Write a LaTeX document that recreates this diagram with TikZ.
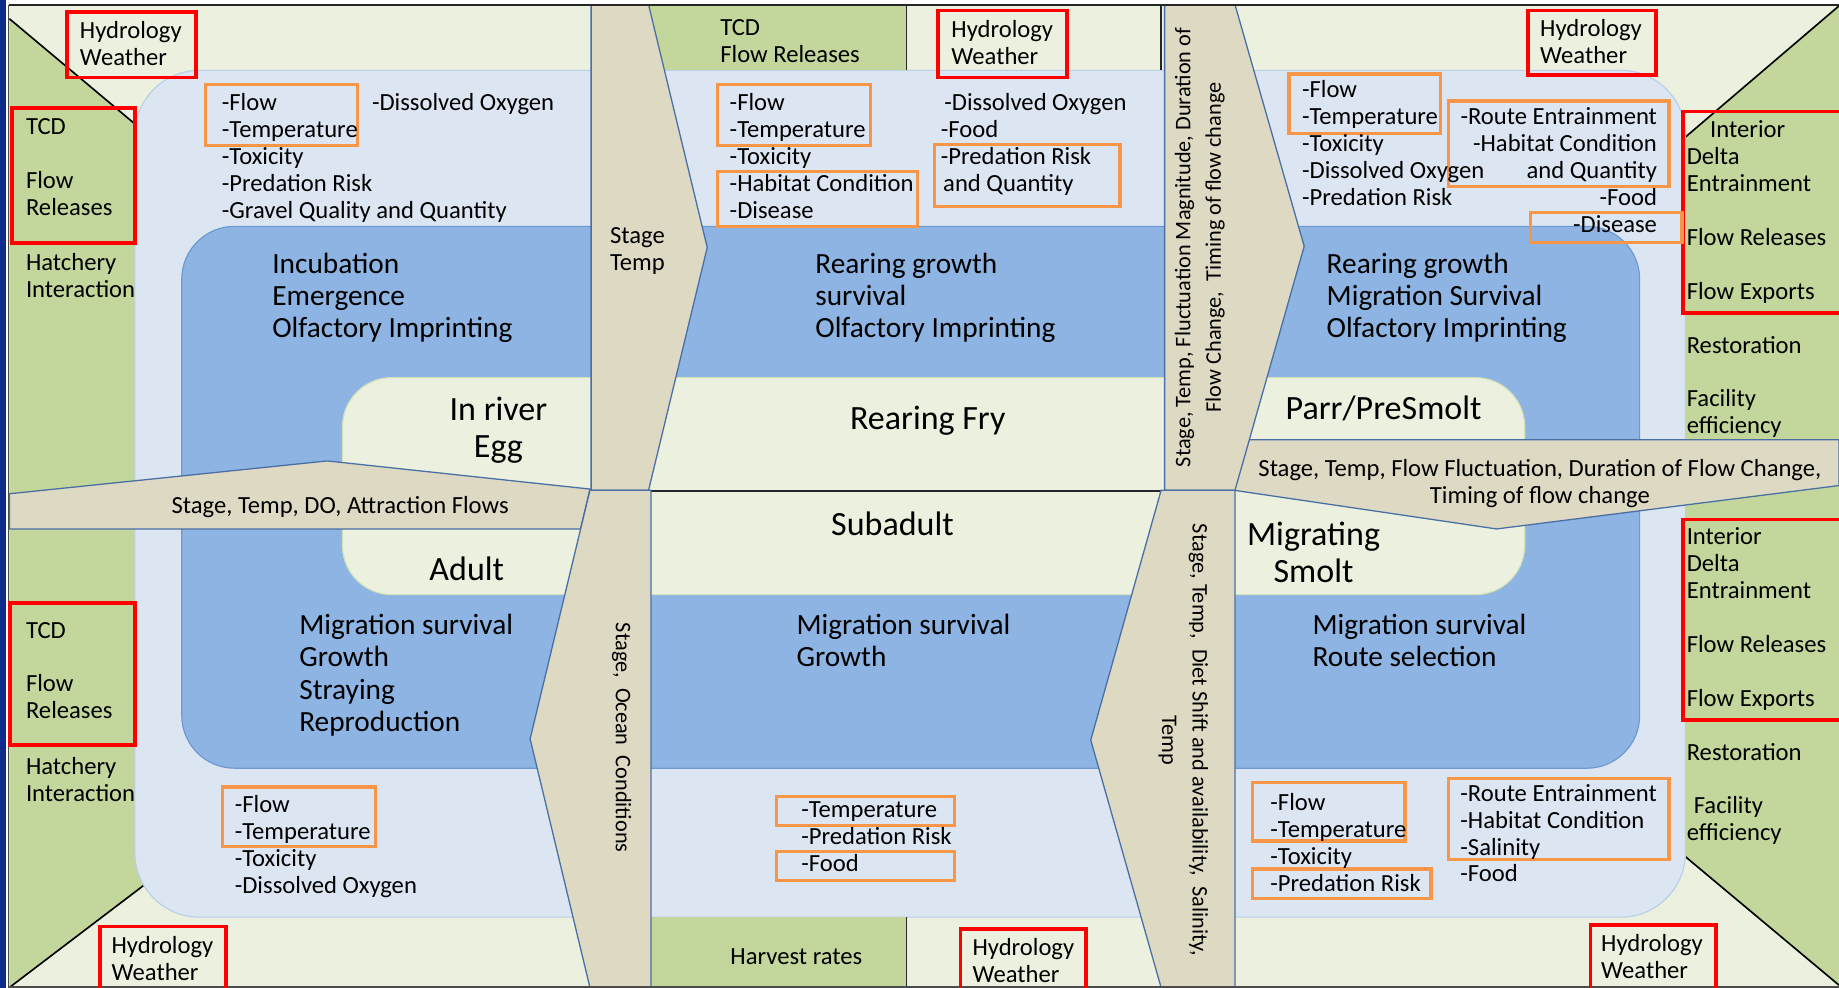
\documentclass[tikz,border=0pt]{standalone}
\usepackage{fontspec}
\setmainfont{Carlito}
\definecolor{cream}{HTML}{EBF1DE}
\definecolor{olive}{HTML}{C3D69B}
\definecolor{paleblue}{HTML}{DCE6F2}
\definecolor{paleedge}{HTML}{B9CFE8}
\definecolor{midblue}{HTML}{8DB4E2}
\definecolor{midedge}{HTML}{6E98CF}
\definecolor{creamedge}{HTML}{D4E2B8}
\definecolor{tanfill}{HTML}{DDD9C3}
\definecolor{bandline}{HTML}{4A6FA5}
\definecolor{boxorange}{HTML}{F79646}
\definecolor{navy}{HTML}{0E2C8C}
\begin{document}
% multi-line labels are placed by the baseline of their last line
\begin{tikzpicture}[x=1pt,y=-1pt,
  sm/.style={font=\fontsize{21}{23}\selectfont, inner sep=0pt, align=left},
  vt/.style={font=\fontsize{19}{26}\selectfont, inner sep=0pt, align=center},
  md/.style={font=\fontsize{25}{27.5}\selectfont, inner sep=0pt, align=left},
  lg/.style={font=\fontsize{29}{32}\selectfont, inner sep=0pt, align=center},
  redbox/.style={draw=red, line width=3.2pt},
  orangebox/.style={draw=boxorange, line width=2.8pt},
  band/.style={fill=tanfill, draw=bandline, line width=1.1pt, line join=miter},
  corner/.style={draw=black, line width=1.4pt},
  divider/.style={draw=black!85, line width=1.2pt}]
\useasboundingbox (0,0) rectangle (1568,842);

% page background, side strip and frame
\fill[white] (0,0) rectangle (1568,842);
\fill[navy] (0,0) rectangle (5.5,842);
\fill[cream] (7.5,4) rectangle (1568,842);

% olive corner panels (diagonal edges drawn in black)
\fill[olive] (8,16) -- (150,135) -- (150,421) -- (8,421) -- cycle;
\draw[corner] (8,16) -- (150,135);
\fill[olive] (8,451) -- (150,451) -- (150,734) -- (8,842) -- cycle;
\draw[corner] (8,842) -- (150,734);
\fill[olive] (1568,5) -- (1417,134) -- (1417,380) -- (1568,380) -- cycle;
\draw[corner] (1568,5) -- (1417,134);
\fill[olive] (1415,400) -- (1568,400) -- (1568,840) -- (1415,712) -- cycle;
\draw[corner] (1568,840) -- (1415,712);

% nested habitat regions
\filldraw[fill=paleblue, draw=paleedge, line width=1pt, rounded corners=55pt]
  (115,60) rectangle (1437,782);
\filldraw[fill=midblue, draw=midedge, line width=1pt, rounded corners=45pt]
  (155,193) rectangle (1398,655);
\filldraw[fill=cream, draw=creamedge, line width=1pt, rounded corners=42pt]
  (292,322) rectangle (1300,507);

% top and bottom management strips of the middle column
\fill[olive] (553,4) rectangle (773,60);
\fill[olive] (555,782) rectangle (773,842);
\draw[divider] (773,4) -- (773,60);
\draw[divider] (990,4) -- (990,60);
\draw[divider] (773,782) -- (773,842);
\draw[divider] (553,418.5) -- (990,418.5);

% transition bands
\draw[band] (8,421) -- (279,393) -- (503,417) -- (495,451) -- (8,451) -- cycle;
\draw[band] (1065,375) -- (1568,375) -- (1568,414) -- (1276,451) -- (1052,418) -- cycle;
\draw[band] (504,4) -- (553,4) -- (603,211) -- (553,418) -- (504,418) -- cycle;
\draw[band] (503,418) -- (555,418) -- (555,842) -- (503,842) -- (452,630) -- cycle;
\draw[band] (993,4) -- (1053,4) -- (1112,210) -- (1053,418) -- (993,418) -- cycle;
\draw[band] (990,418) -- (1053,418) -- (1053,842) -- (990,842) -- (930,631) -- cycle;

% frame lines
\draw[black!85, line width=1.6pt] (7.5,4) -- (1568,4);
\draw[black!70, line width=1pt] (7.5,4) -- (7.5,841.5) -- (1568,841.5);

% red boxes
\draw[redbox] (57,10) rectangle (167,66);
\draw[redbox] (10,92) rectangle (115,207);
\draw[redbox] (800,9) rectangle (910,66);
\draw[redbox] (1303,9) rectangle (1412,64);
\draw[redbox] (1435,95) rectangle (1572,267);
\draw[redbox] (8.5,514) rectangle (115,635);
\draw[redbox] (85,790) rectangle (193,846);
\draw[redbox] (819,792) rectangle (926,846);
\draw[redbox] (1435,443) rectangle (1572,614);
\draw[redbox] (1356,789) rectangle (1463,846);

% orange boxes
\draw[orangebox] (175,72) rectangle (305,124);
\draw[orangebox] (190,671) rectangle (320,722);
\draw[orangebox] (612,72) rectangle (742,124);
\draw[orangebox] (612,146) rectangle (782,193);
\draw[orangebox] (797,123) rectangle (955,176);
\draw[orangebox] (662,679) rectangle (814,704);
\draw[orangebox] (662,726) rectangle (814,751);
\draw[orangebox] (1099,63) rectangle (1228,114);
\draw[orangebox] (1235,86) rectangle (1423,159);
\draw[orangebox] (1305,181) rectangle (1434,207);
\draw[orangebox] (1068,667) rectangle (1198,717);
\draw[orangebox] (1068,741) rectangle (1220,766);
\draw[orangebox] (1235,664) rectangle (1423,733);

% upper left: egg stage
\node[sm, anchor=base west] (tlhyd) at (68,56) {Hydrology\\Weather};
\node[sm, anchor=base west] (tltcd) at (22,184) {TCD\\[23pt]Flow\\Releases};
\node[sm, anchor=base west] (tlhatch) at (22,254) {Hatchery\\Interaction};
\node[sm, anchor=base west] (tlfac) at (189,186) {-Flow\\-Temperature\\-Toxicity\\-Predation Risk\\-Gravel Quality and Quantity};
\node[sm, anchor=base west] (tldo) at (317,94) {-Dissolved Oxygen};
\node[md, anchor=base west] (tlproc) at (232,288) {Incubation\\Emergence\\Olfactory Imprinting};
\node[lg, anchor=base] (egg) at (425,390.3) {In river\\Egg};
\node[sm, anchor=base] (lbandtxt) at (290,438) {Stage, Temp, DO, Attraction Flows};

% lower left: adult stage
\node[lg, anchor=base] (adult) at (398,495.3) {Adult};
\node[md, anchor=base west] (blproc) at (255,623.5) {Migration survival\\Growth\\Straying\\Reproduction};
\node[sm, anchor=base west] (bltcd) at (22,613) {TCD\\[23pt]Flow\\Releases};
\node[sm, anchor=base west] (blhatch) at (22,683) {Hatchery\\Interaction};
\node[sm, anchor=base west] (blfac) at (200,762) {-Flow\\-Temperature\\-Toxicity\\-Dissolved Oxygen};
\node[sm, anchor=base west] (blhyd) at (95,836) {Hydrology\\Weather};

% upper middle: fry stage
\node[sm, anchor=base west] (tmtcd) at (614,53) {TCD\\Flow Releases};
\node[sm, anchor=base west] (tmhyd) at (811,55) {Hydrology\\Weather};
\node[sm, anchor=base west] (tmfac) at (622,186) {-Flow\\-Temperature\\-Toxicity\\-Habitat Condition\\-Disease};
\node[sm, anchor=base west] (tmfac2) at (802,163) {\hspace{3pt}-Dissolved Oxygen\\-Food\\-Predation Risk\\\hspace{2pt}and Quantity};
\node[md, anchor=base west] (tmproc) at (695,288) {Rearing growth\\survival\\Olfactory Imprinting};
\node[lg, anchor=base] (fry) at (791,366.3) {Rearing Fry};
\node[sm, anchor=base west] (stagetemp) at (520,231) {Stage\\Temp};

% lower middle: subadult stage
\node[lg, anchor=base] (subadult) at (761,456.3) {Subadult};
\node[md, anchor=base west] (bmproc) at (679,568.5) {Migration survival\\Growth};
\node[sm, anchor=base west] (bmfac) at (683,743) {-Temperature\\-Predation Risk\\-Food};
\node[sm, anchor=base] (harvest) at (679,822) {Harvest rates};
\node[sm, anchor=base west] (bmhyd) at (829,838) {Hydrology\\Weather};
\node[vt, rotate=-90] (ocean) at (530,629) {Stage,\ \ Ocean\ \ Conditions};

% upper right: parr / presmolt stage
\node[sm, anchor=base west] (trhyd) at (1313,54) {Hydrology\\Weather};
\node[sm, anchor=base west] (trfac) at (1110,175) {-Flow\\-Temperature\\-Toxicity\\-Dissolved Oxygen\\-Predation Risk};
\node[sm, anchor=base east, align=right] (trfac2) at (1413,198) {-Route Entrainment\\-Habitat Condition\\and Quantity\\-Food\\-Disease};
\node[md, anchor=base west] (trproc) at (1131,288) {Rearing growth\\Migration Survival\\Olfactory Imprinting};
\node[lg, anchor=base west] (parr) at (1096,357.3) {Parr/PreSmolt};
\node[sm, anchor=base west] (trmgmt) at (1438,370) {\hspace{20pt}Interior\\Delta\\Entrainment\\[23pt]Flow Releases\\[23pt]Flow Exports\\[23pt]Restoration\\[23pt]Facility\\efficiency};
\node[sm, anchor=base, align=center] (rbandtxt) at (1313,429) {Stage, Temp, Flow Fluctuation, Duration of Flow Change,\\Timing of flow change};
\node[vt, rotate=90] (trvert) at (1023,211) {Stage, Temp, Fluctuation Magnitude, Duration of\\Flow Change,\ \ Timing of flow change};

% lower right: migrating smolt stage
\node[lg, anchor=base] (smolt) at (1120,497) {Migrating\\Smolt};
\node[md, anchor=base west] (brproc) at (1119,568.5) {Migration survival\\Route selection};
\node[sm, anchor=base west] (brfac) at (1083,760) {-Flow\\-Temperature\\-Toxicity\\-Predation Risk};
\node[sm, anchor=base west] (brfac2) at (1245,752) {-Route Entrainment\\-Habitat Condition\\-Salinity\\-Food};
\node[sm, anchor=base west] (brmgmt) at (1438,717) {Interior\\Delta\\Entrainment\\[23pt]Flow Releases\\[23pt]Flow Exports\\[23pt]Restoration\\[23pt]\hspace{6pt}Facility\\efficiency};
\node[sm, anchor=base west] (brhyd) at (1365,834) {Hydrology\\Weather};
\node[vt, rotate=-90] (brvert) at (1009,631) {Stage, Temp,\ \ Diet Shift and availability,\ \ Salinity,\\Temp};
\end{tikzpicture}
\end{document}
